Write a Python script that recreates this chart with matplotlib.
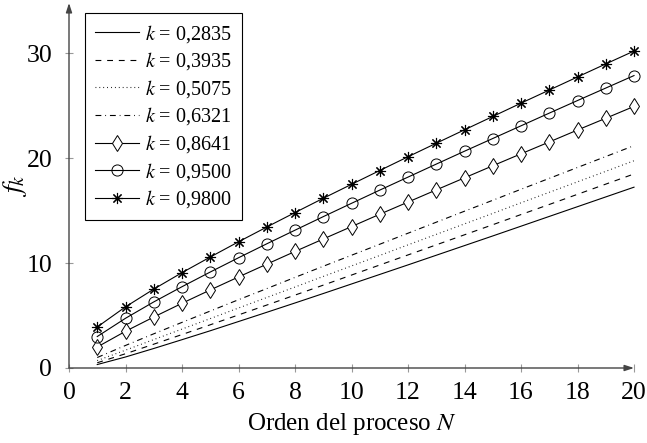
import matplotlib
matplotlib.use('Agg')
import matplotlib.pyplot as plt

plt.rcParams['font.family'] = 'Liberation Serif'
plt.rcParams['mathtext.fontset'] = 'stix'
plt.rcParams['lines.scale_dashes'] = False

# Orden del proceso
N = [1, 2, 3, 4, 5, 6, 7, 8, 9, 10, 11, 12, 13, 14, 15, 16, 17, 18, 19, 20]

# Valores de f_k para cada k
f_2835 = [0.33, 1.05, 1.86, 2.70, 3.55, 4.43, 5.31, 6.20, 7.10, 8.01,
          8.92, 9.83, 10.75, 11.67, 12.59, 13.52, 14.45, 15.38, 16.31, 17.24]
f_3935 = [0.50, 1.36, 2.27, 3.19, 4.12, 5.06, 6.00, 6.95, 7.90, 8.86,
          9.82, 10.78, 11.74, 12.70, 13.66, 14.63, 15.59, 16.56, 17.53, 18.50]
f_5075 = [0.71, 1.70, 2.71, 3.71, 4.71, 5.72, 6.72, 7.72, 8.73, 9.73,
          10.73, 11.74, 12.74, 13.74, 14.74, 15.75, 16.75, 17.75, 18.75, 19.76]
f_6321 = [1.00, 2.15, 3.26, 4.35, 5.43, 6.51, 7.57, 8.64, 9.70, 10.75,
          11.80, 12.85, 13.90, 14.95, 15.99, 17.04, 18.08, 19.12, 20.16, 21.20]
f_8641 = [2.00, 3.50, 4.86, 6.17, 7.44, 8.68, 9.90, 11.11, 12.30, 13.48,
          14.66, 15.82, 16.98, 18.13, 19.28, 20.42, 21.55, 22.69, 23.81, 24.94]
f_9500 = [3.00, 4.74, 6.30, 7.75, 9.15, 10.51, 11.84, 13.14, 14.43, 15.70,
          16.96, 18.20, 19.44, 20.67, 21.88, 23.09, 24.30, 25.50, 26.69, 27.88]
f_9800 = [3.91, 5.83, 7.52, 9.09, 10.58, 12.03, 13.44, 14.82, 16.18, 17.51,
          18.83, 20.14, 21.43, 22.71, 23.98, 25.25, 26.50, 27.75, 28.99, 30.22]

etiquetas = ['0,2835', '0,3935', '0,5075', '0,6321', '0,8641', '0,9500', '0,9800']
leyenda = [r'$k$ = ' + e for e in etiquetas]

fig = plt.figure(figsize=(6.47, 4.43), dpi=100)
ax = fig.add_axes([69/647, 75/443, 565/647, 365/443])

lw = 0.8
estilo = dict(color='black', lw=lw, clip_on=False)
ax.plot(N, f_2835, ls='-', label=leyenda[0], **estilo)
ax.plot(N, f_3935, ls=(0, (4.2, 4.2)), label=leyenda[1], **estilo)
ax.plot(N, f_5075, ls=(0, (0.6, 2.2)), label=leyenda[2], **estilo)
ax.plot(N, f_6321, ls=(0, (4.2, 2.8, 0.6, 2.8)), label=leyenda[3], **estilo)
ax.plot(N, f_8641, ls='-', marker='d', ms=8, mfc='white', mec='black', mew=0.7,
        label=leyenda[4], **estilo)
ax.plot(N, f_9500, ls='-', marker='o', ms=8, mfc='none', mec='black', mew=0.7,
        label=leyenda[5], **estilo)
ax.plot(N, f_9800, ls='-', marker=(8, 2, 0), ms=8, mec='black', mew=0.8,
        label=leyenda[6], **estilo)

ax.set_xlim(0, 20)
ax.set_ylim(0, 34.8)
ax.set_xticks(range(0, 21, 2))
ax.set_yticks([0, 10, 20, 30])

# ejes con flecha al estilo pgfplots
for s in ax.spines.values():
    s.set_visible(False)
flecha = dict(arrowstyle='-|>,head_length=0.55,head_width=0.18', color='#444444',
              lw=1.0, shrinkA=0, shrinkB=0)
ax.annotate('', xy=(1, 0), xytext=(0, 0), xycoords='axes fraction', arrowprops=flecha)
ax.annotate('', xy=(0, 1), xytext=(0, 0), xycoords='axes fraction', arrowprops=flecha)

ax.tick_params(direction='inout', length=6, width=0.8, color='#999999',
               labelsize=18.5)
ax.tick_params(axis='x', pad=7)
ax.tick_params(axis='y', pad=9)
ax.set_xlabel('Orden del proceso $N$', fontsize=18, labelpad=5)
ax.set_ylabel('$f_k$', fontsize=20)
ax.yaxis.set_label_coords(-0.07, 0.5)

ley = ax.legend(loc='upper left', bbox_to_anchor=(0.028, 0.973), borderaxespad=0,
                fontsize=14.5, fancybox=False, framealpha=1, edgecolor='black',
                handlelength=2.2, handletextpad=0.3, labelspacing=0.28,
                borderpad=0.5)
ley.get_frame().set_linewidth(0.8)

fig.savefig('out.png', dpi=100)
